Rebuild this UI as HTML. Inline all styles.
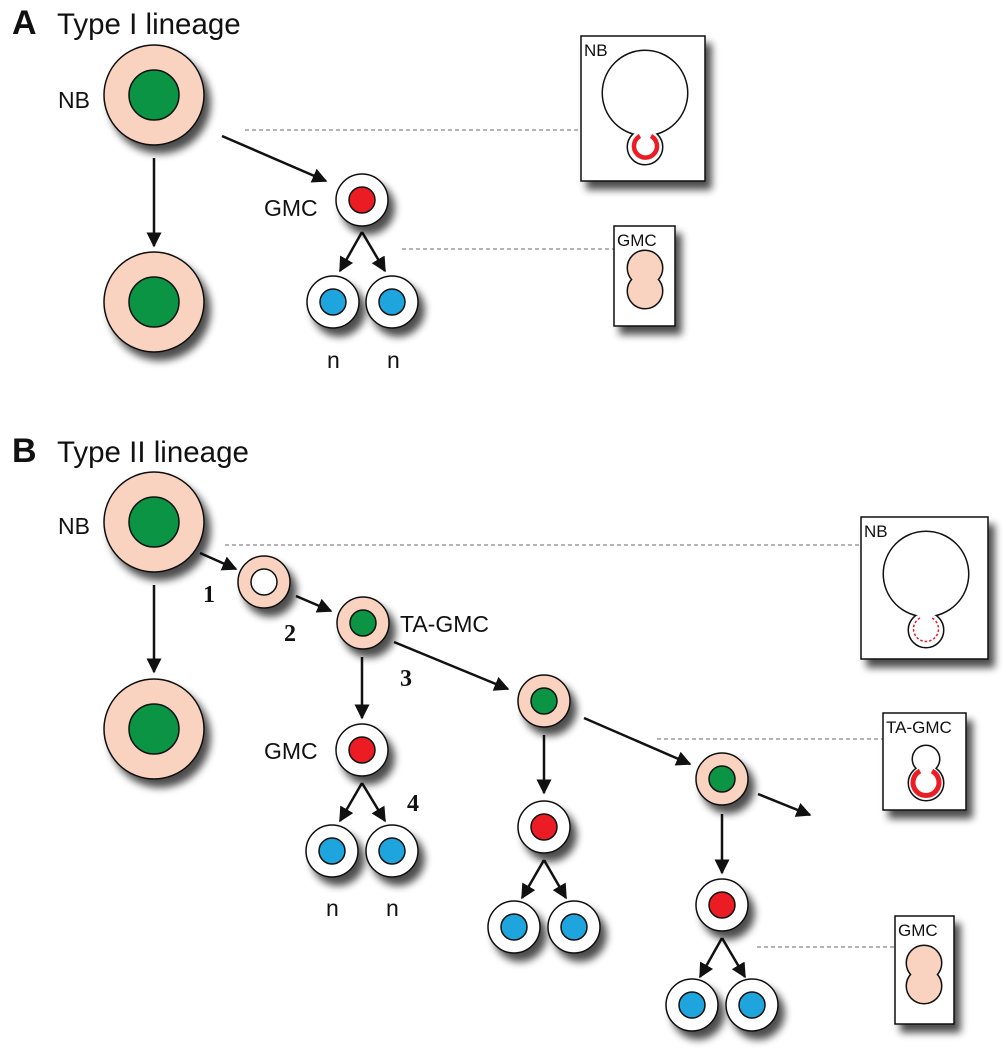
<!DOCTYPE html>
<html><head><meta charset="utf-8"><style>
html,body{margin:0;padding:0;background:#fff;}
svg{display:block;}
text{font-family:"Liberation Sans",Arial,sans-serif;fill:#111;}
.num{font-family:"Liberation Serif",serif;font-weight:bold;font-size:24px;}
.lb{font-size:23px;}
</style></head><body>
<svg width="1005" height="1050" viewBox="0 0 1005 1050" xmlns="http://www.w3.org/2000/svg">
<defs>
<filter id="sh" x="-30%" y="-30%" width="170%" height="170%">
<feGaussianBlur in="SourceAlpha" stdDeviation="4"/>
<feOffset dx="6" dy="8" result="b"/>
<feComponentTransfer><feFuncA type="linear" slope="0.7"/></feComponentTransfer>
<feMerge><feMergeNode/><feMergeNode in="SourceGraphic"/></feMerge>
</filter>
<marker id="ah" viewBox="0 0 10 10" refX="9" refY="5" markerWidth="6" markerHeight="6" orient="auto" markerUnits="strokeWidth">
<path d="M0,0 L10,5 L0,10 z" fill="#111"/>
</marker>
</defs>
<g stroke="#111" stroke-width="2.5" fill="none" marker-end="url(#ah)">
<line x1="154" y1="158" x2="154" y2="246"/>
<line x1="222" y1="136" x2="326" y2="181"/>
<line x1="362" y1="232" x2="340" y2="271"/>
<line x1="362" y1="232" x2="385" y2="271"/>
<line x1="154" y1="585" x2="154" y2="672"/>
<line x1="200" y1="553" x2="236" y2="569"/>
<line x1="296" y1="596" x2="331" y2="611"/>
<line x1="362" y1="657" x2="362" y2="718"/>
<line x1="362" y1="783" x2="340" y2="821"/>
<line x1="362" y1="783" x2="385" y2="821"/>
<line x1="394" y1="642" x2="508" y2="689"/>
<line x1="544" y1="735" x2="544" y2="793"/>
<line x1="544" y1="860" x2="522" y2="898"/>
<line x1="544" y1="860" x2="566" y2="898"/>
<line x1="584" y1="718" x2="690" y2="764"/>
<line x1="758" y1="794" x2="810" y2="815"/>
<line x1="722" y1="814" x2="722" y2="873"/>
<line x1="722" y1="938" x2="700" y2="977"/>
<line x1="722" y1="938" x2="745" y2="977"/>
</g>
<g stroke="#888" stroke-width="1.2" stroke-dasharray="4,3">
<line x1="245" y1="130" x2="581" y2="130"/>
<line x1="402" y1="249" x2="614" y2="249"/>
<line x1="225" y1="545" x2="861" y2="545"/>
<line x1="657" y1="739" x2="883" y2="739"/>
<line x1="757" y1="947" x2="895" y2="947"/>
</g>
<g stroke="#111" stroke-width="1.5">
<g filter="url(#sh)">
<circle cx="154" cy="95" r="50" fill="#f9d3c0"/>
<circle cx="154" cy="302" r="50" fill="#f9d3c0"/>
<circle cx="362" cy="200" r="26" fill="#fff"/>
<circle cx="333" cy="302" r="26" fill="#fff"/>
<circle cx="392" cy="302" r="26" fill="#fff"/>
<circle cx="154" cy="522" r="50" fill="#f9d3c0"/>
<circle cx="154" cy="729" r="50" fill="#f9d3c0"/>
<circle cx="264" cy="582" r="26" fill="#f9d3c0"/>
<circle cx="363" cy="623" r="26" fill="#f9d3c0"/>
<circle cx="362" cy="750" r="26" fill="#fff"/>
<circle cx="332" cy="851" r="26" fill="#fff"/>
<circle cx="392" cy="851" r="26" fill="#fff"/>
<circle cx="544" cy="701" r="26" fill="#f9d3c0"/>
<circle cx="544" cy="827" r="26" fill="#fff"/>
<circle cx="514" cy="927" r="26" fill="#fff"/>
<circle cx="574" cy="927" r="26" fill="#fff"/>
<circle cx="722" cy="779" r="26" fill="#f9d3c0"/>
<circle cx="722" cy="905" r="26" fill="#fff"/>
<circle cx="692" cy="1005" r="26" fill="#fff"/>
<circle cx="752" cy="1005" r="26" fill="#fff"/>
</g>
<circle cx="154" cy="95" r="25" fill="#0b9444"/>
<circle cx="154" cy="302" r="25" fill="#0b9444"/>
<circle cx="362" cy="200" r="13" fill="#ec1c24"/>
<circle cx="333" cy="302" r="13" fill="#1ea5dd"/>
<circle cx="392" cy="302" r="13" fill="#1ea5dd"/>
<circle cx="154" cy="522" r="25" fill="#0b9444"/>
<circle cx="154" cy="729" r="25" fill="#0b9444"/>
<circle cx="264" cy="582" r="13" fill="#fff"/>
<circle cx="363" cy="623" r="13" fill="#0b9444"/>
<circle cx="362" cy="750" r="13" fill="#ec1c24"/>
<circle cx="332" cy="851" r="13" fill="#1ea5dd"/>
<circle cx="392" cy="851" r="13" fill="#1ea5dd"/>
<circle cx="544" cy="701" r="13" fill="#0b9444"/>
<circle cx="544" cy="827" r="13" fill="#ec1c24"/>
<circle cx="514" cy="927" r="13" fill="#1ea5dd"/>
<circle cx="574" cy="927" r="13" fill="#1ea5dd"/>
<circle cx="722" cy="779" r="13" fill="#0b9444"/>
<circle cx="722" cy="905" r="13" fill="#ec1c24"/>
<circle cx="692" cy="1005" r="13" fill="#1ea5dd"/>
<circle cx="752" cy="1005" r="13" fill="#1ea5dd"/>
</g>
<g filter="url(#sh)" fill="#fff" stroke="#111" stroke-width="1.5">
<rect x="581" y="36" width="124" height="145"/>
<rect x="614" y="226" width="61" height="100"/>
<rect x="861" y="517" width="127" height="142"/>
<rect x="883" y="713" width="83" height="97"/>
<rect x="895" y="916" width="59" height="108"/>
</g>
<g stroke="#111" stroke-width="3" fill="#fff"><circle cx="645" cy="93" r="42"/><circle cx="645" cy="147" r="17"/></g>
<g fill="#fff"><circle cx="645" cy="93" r="42"/><circle cx="645" cy="147" r="17"/></g>
<path d="M640,136 A11.5,11.5 0 1 0 651,136" fill="none" stroke="#ec1c24" stroke-width="4.5"/>
<g stroke="#111" stroke-width="3" fill="#f9d3c0"><circle cx="645" cy="268" r="17"/><circle cx="645" cy="291" r="17"/></g>
<g fill="#f9d3c0"><circle cx="645" cy="268" r="17"/><circle cx="645" cy="291" r="17"/></g>
<g stroke="#111" stroke-width="3" fill="#fff"><circle cx="926" cy="574" r="42"/><circle cx="926" cy="630" r="17"/></g>
<g fill="#fff"><circle cx="926" cy="574" r="42"/><circle cx="926" cy="630" r="17"/></g>
<path d="M920,618 A12.5,12.5 0 1 0 932,618" fill="none" stroke="#ec1c24" stroke-width="1.5" stroke-dasharray="2.5,2"/>
<g stroke="#111" stroke-width="3" fill="#fff"><circle cx="926" cy="759" r="13"/><circle cx="926" cy="783" r="17"/></g>
<g fill="#fff"><circle cx="926" cy="759" r="13"/><circle cx="926" cy="783" r="17"/></g>
<path d="M920,771 A13,13 0 1 0 932,771" fill="none" stroke="#ec1c24" stroke-width="5"/>
<g stroke="#111" stroke-width="3" fill="#f9d3c0"><circle cx="924" cy="963" r="17"/><circle cx="924" cy="986" r="17"/></g>
<g fill="#f9d3c0"><circle cx="924" cy="963" r="17"/><circle cx="924" cy="986" r="17"/></g>
<text x="12" y="34" font-size="34" font-weight="bold">A</text>
<text x="57" y="34" font-size="29.5">Type I lineage</text>
<text class="lb" x="58" y="108">NB</text>
<text class="lb" x="264" y="216">GMC</text>
<text class="lb" x="327" y="368">n</text>
<text class="lb" x="387" y="368">n</text>
<text x="584" y="56" font-size="17">NB</text>
<text x="617" y="246" font-size="17">GMC</text>
<text x="12" y="462" font-size="34" font-weight="bold">B</text>
<text x="57" y="462" font-size="29.5">Type II lineage</text>
<text class="lb" x="58" y="534">NB</text>
<text class="lb" x="400" y="632">TA-GMC</text>
<text class="lb" x="264" y="759">GMC</text>
<text class="lb" x="326" y="916">n</text>
<text class="lb" x="386" y="916">n</text>
<text class="num" x="203" y="602">1</text>
<text class="num" x="284" y="641">2</text>
<text class="num" x="400" y="686">3</text>
<text class="num" x="407" y="811">4</text>
<text x="864" y="537" font-size="17">NB</text>
<text x="886" y="733" font-size="17">TA-GMC</text>
<text x="898" y="936" font-size="17">GMC</text>
</svg>
</body></html>
